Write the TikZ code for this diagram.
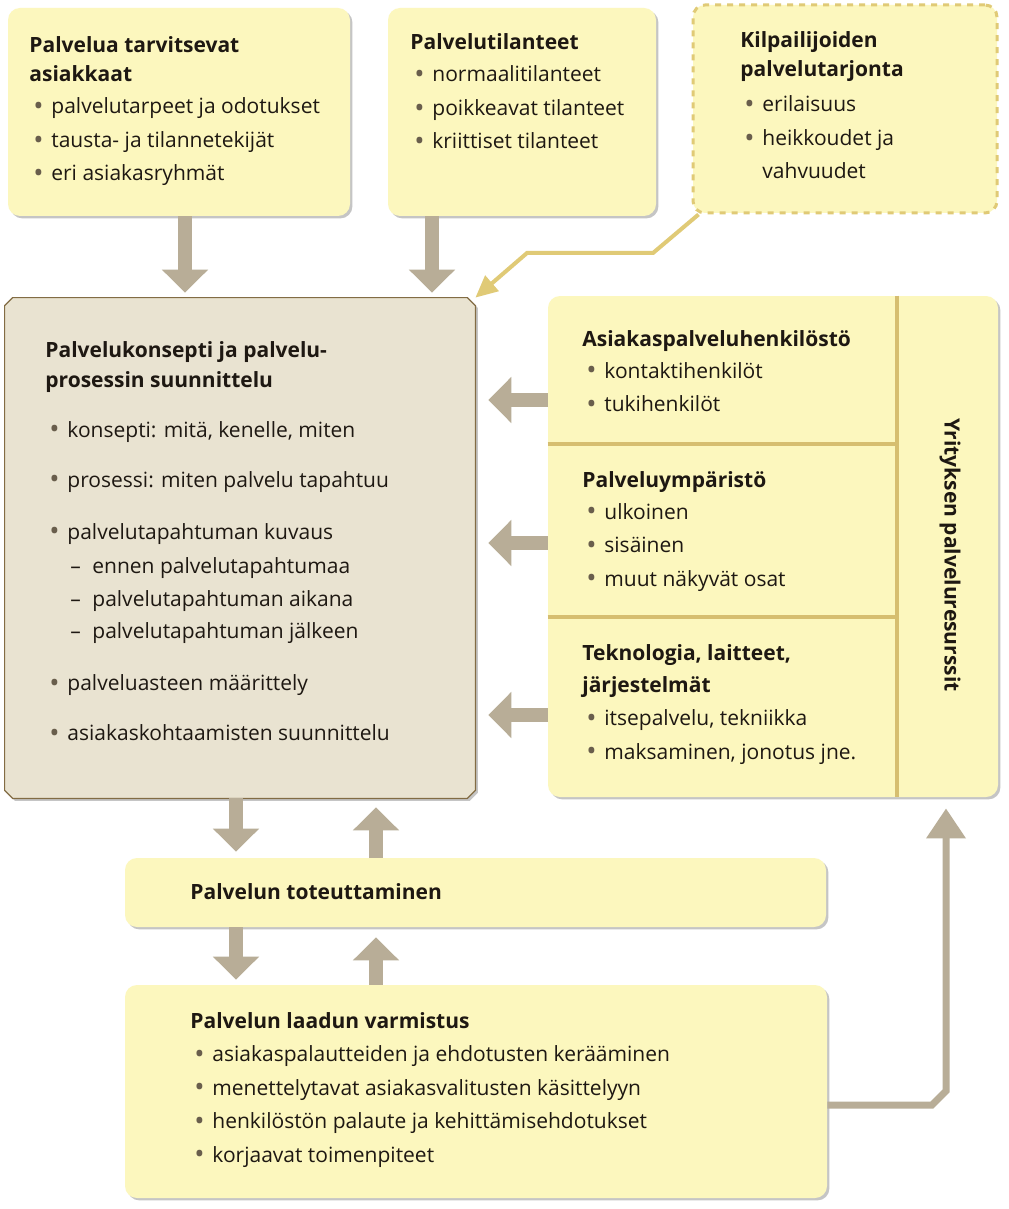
\documentclass[tikz,border=0pt]{standalone}
\usepackage{fontspec}
\setmainfont{Open Sans}
\usetikzlibrary{arrows.meta,fit,shadows}

\definecolor{boxyellow}{RGB}{252,247,190}
\definecolor{conceptfill}{RGB}{233,227,209}
\definecolor{conceptline}{RGB}{130,108,68}
\definecolor{arrowgray}{RGB}{184,173,151}
\definecolor{gold}{RGB}{224,202,118}
\definecolor{divgold}{RGB}{214,190,112}
\definecolor{inkc}{RGB}{30,24,18}
\definecolor{bulletc}{RGB}{105,94,76}

\newcommand{\itm}[1]{\hspace*{2pt}\makebox[9pt][l]{\raisebox{-0.9pt}{\scalebox{1.3}{\textcolor{bulletc}{\textbullet}}}}#1}
\newcommand{\subitm}[1]{\hspace*{12.5pt}\makebox[11pt][l]{--}#1}
\newcommand{\boxtext}[2]{\parbox[t]{#1}{\fontsize{10.5pt}{16.75pt}\selectfont #2}}

\tikzset{
  boxshadow/.style={drop shadow={shadow xshift=1.2pt,shadow yshift=-1.2pt,fill=black!45,opacity=.5}},
  box/.style={inner sep=0pt, fill=boxyellow, rounded corners=6pt, boxshadow},
  dashbox/.style={inner sep=0pt, fill=boxyellow, rounded corners=6pt, draw=gold, line width=1.5pt, dash pattern=on 3pt off 3pt},
  conceptbox/.style={draw=conceptline, line width=0.6pt, fill=conceptfill, boxshadow},
  divider/.style={draw=divgold, line width=2pt},
  bigarrow/.style={draw=arrowgray, line width=7pt, -{Triangle[width=22.5pt,length=11.5pt]}},
  backarrow/.style={draw=arrowgray, line width=3.5pt, -{Triangle[width=19pt,length=15pt]}},
  goldarrow/.style={draw=gold, line width=2pt, -{Triangle[width=10pt,length=11pt]}},
  txt/.style={inner sep=0pt, anchor=base west, text=inkc, font=\fontsize{10.5pt}{16.75pt}\selectfont},
}

\begin{document}
\begin{tikzpicture}[x=0.5pt,y=-0.5pt]
  \useasboundingbox (0,0) rectangle (1008,1209);
  \fill[white] (0,0) rectangle (1008,1209);
  % Boxes
  \node[box, fit={(8,8) (350,216)}] (need) {};
  \node[box, fit={(388,8) (656,216)}] (situ) {};
  \node[dashbox, fit={(693,5) (997,213)}] (comp) {};
  \node[box, fit={(548,296) (998,797)}] (res) {};
  \node[box, fit={(125,858) (826,927)}] (exec) {};
  \node[box, fit={(125,985) (827,1198)}] (qual) {};
  % Concept box with cut corners
  \node[inner sep=0pt, fit={(5,298) (475,798)}] (concept) {};
  \draw[conceptbox] ([xshift=4pt]concept.north west) -- ([xshift=-4pt]concept.north east)
    -- ([yshift=-4pt]concept.north east) -- ([yshift=4pt]concept.south east)
    -- ([xshift=-4pt]concept.south east) -- ([xshift=4pt]concept.south west)
    -- ([yshift=4pt]concept.south west) -- ([yshift=-4pt]concept.north west) -- cycle;
  % Dividers of the resource box
  \coordinate (split) at (897,0);
  \draw[divider] (split |- res.north) -- (split |- res.south);
  \draw[divider] (res.west |- 0,444) -- (split |- 0,444);
  \draw[divider] (res.west |- 0,617) -- (split |- 0,617);
  % Texts
  \node[txt] (needtxt) at (29,53) {\boxtext{165pt}{\textbf{Palvelua tarvitsevat}\\[-2.25pt]\textbf{asiakkaat}\\[-0.75pt]
    \itm{palvelutarpeet ja odotukset}\\\itm{tausta- ja tilannetekijät}\\\itm{eri asiakasryhmät}}};
  \node[txt] (situtxt) at (410,50) {\boxtext{130pt}{\textbf{Palvelutilanteet}\\[-0.75pt]
    \itm{normaalitilanteet}\\\itm{poikkeavat tilanteet}\\\itm{kriittiset tilanteet}}};
  \node[txt] (comptxt) at (740,48) {\boxtext{125pt}{\textbf{Kilpailijoiden}\\[-2.25pt]\textbf{palvelutarjonta}\\[0.75pt]
    \itm{erilaisuus}\\\itm{heikkoudet ja}\\\hspace*{11pt}vahvuudet}};
  \node[txt] (concepttxt) at (45,357) {\boxtext{210pt}{\textbf{Palvelukonsepti ja palvelu-}\\[-1.75pt]\textbf{prosessin suunnittelu}\\[8.25pt]
    \itm{konsepti: mitä, kenelle, miten}\\[8.25pt]
    \itm{prosessi: miten palvelu tapahtuu}\\[9.25pt]
    \itm{palvelutapahtuman kuvaus}\\[0.25pt]
    \subitm{ennen palvelutapahtumaa}\\
    \subitm{palvelutapahtuman aikana}\\[-0.75pt]
    \subitm{palvelutapahtuman jälkeen}\\[9.25pt]
    \itm{palveluasteen määrittely}\\[8.25pt]
    \itm{asiakaskohtaamisten suunnittelu}}};
  \node[txt] (restxta) at (582,346) {\boxtext{150pt}{\textbf{Asiakaspalveluhenkilöstö}\\[-0.75pt]
    \itm{kontaktihenkilöt}\\\itm{tukihenkilöt}}};
  \node[txt] (restxtb) at (582,487) {\boxtext{150pt}{\textbf{Palveluympäristö}\\[-0.75pt]
    \itm{ulkoinen}\\\itm{sisäinen}\\\itm{muut näkyvät osat}}};
  \node[txt] (restxtc) at (582,660) {\boxtext{150pt}{\textbf{Teknologia, laitteet,}\\[-0.75pt]\textbf{järjestelmät}\\
    \itm{itsepalvelu, tekniikka}\\\itm{maksaminen, jonotus jne.}}};
  \node[txt, anchor=center, rotate=-90, font=\fontsize{10.5pt}{16.75pt}\selectfont\bfseries] (reslabel) at (950,555) {Yrityksen palveluresurssit};
  \node[txt] (exectxt) at (190,899) {\textbf{Palvelun toteuttaminen}};
  \node[txt] (qualtxt) at (190,1028) {\boxtext{260pt}{\textbf{Palvelun laadun varmistus}\\
    \itm{asiakaspalautteiden ja ehdotusten kerääminen}\\\itm{menettelytavat asiakasvalitusten käsittelyyn}\\
    \itm{henkilöstön palaute ja kehittämisehdotukset}\\\itm{korjaavat toimenpiteet}}};
  % Arrows into the concept box
  \draw[bigarrow, shorten >=2.5pt] (185,0 |- need.south) -- (185,0 |- concept.north);
  \draw[bigarrow, shorten >=2.5pt] (432,0 |- situ.south) -- (432,0 |- concept.north);
  \draw[goldarrow] ([xshift=3.5pt]comp.south west) -- (653,253) -- (527,253) -- (concept.north east);
  \foreach \y in {400,543,715}
    \draw[bigarrow, shorten >=6.5pt] (res.west |- 0,\y) -- (concept.east |- 0,\y);
  % Arrows between the lower boxes
  \draw[bigarrow, shorten >=3pt] (236,0 |- concept.south) -- (236,0 |- exec.north);
  \draw[bigarrow, shorten >=4.5pt] (376,0 |- exec.north) -- (376,0 |- concept.south);
  \draw[bigarrow, shorten >=2.5pt] (236,0 |- exec.south) -- (236,0 |- qual.north);
  \draw[bigarrow, shorten >=5pt] (376,0 |- qual.north) -- (376,0 |- exec.south);
  % Feedback to the resources
  \draw[backarrow, shorten >=5.5pt] (qual.east |- 0,1105) -- (932,1105) -- (946,1091) -- (946,0 |- res.south);
\end{tikzpicture}
\end{document}
